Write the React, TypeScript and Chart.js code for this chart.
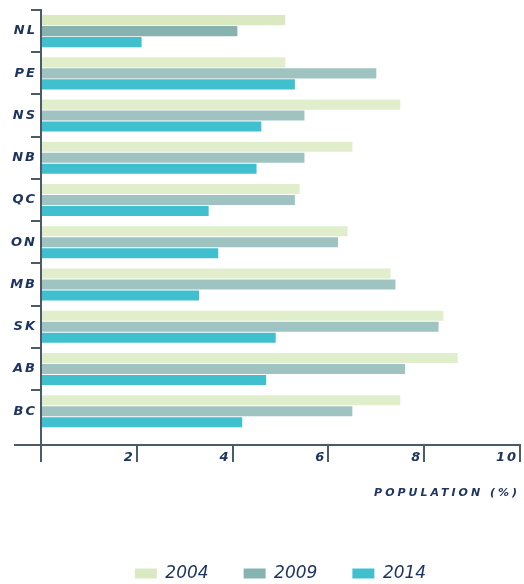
import React, { useEffect, useRef } from 'react';
import { Chart, registerables } from 'chart.js';

Chart.register(...registerables);

// ---- data ----
const provinces = ['NL', 'PE', 'NS', 'NB', 'QC', 'ON', 'MB', 'SK', 'AB', 'BC'];
const years = ['2004', '2009', '2014'];
const values2004 = [5.1, 5.1, 7.5, 6.5, 5.4, 6.4, 7.3, 8.4, 8.7, 7.5];
const values2009 = [4.1, 7.0, 5.5, 5.5, 5.3, 6.2, 7.4, 8.3, 7.6, 6.5];
const values2014 = [2.1, 5.3, 4.6, 4.5, 3.5, 3.7, 3.3, 4.9, 4.7, 4.2];
const xTicks = [0, 2, 4, 6, 8, 10];
const axisTitle = 'POPULATION (%)';

// ---- style ----
const NAVY = '#1f3561';
const AXIS = '#4b5c68';
const seriesColors = [
  { dark: '#dbe9c2', light: '#e1eecc' },
  { dark: '#86b3b0', light: '#9fc3c1' },
  { dark: '#40c0cf', light: '#40c0cf' },
];
const FONT = '"DejaVu Sans", sans-serif';
const LEGEND_FONT = '"DejaVu Sans", sans-serif';

const spacingPlugin = {
  id: 'letterSpacing',
  afterLayout(chart: any) {
    const wrap = (obj: any, fn: string, sp: string) => {
      if (!obj || obj['__wrapped_' + fn]) return;
      const orig = obj[fn];
      obj[fn] = function (...args: any[]) {
        const ctx: any = chart.ctx;
        const prev = ctx.letterSpacing;
        ctx.letterSpacing = sp;
        try {
          return orig.apply(this, args);
        } finally {
          ctx.letterSpacing = prev;
        }
      };
      obj['__wrapped_' + fn] = true;
    };
    wrap(chart.scales.y, 'drawLabels', '2px');
    wrap(chart.scales.x, 'drawLabels', '2px');
    wrap(chart.scales.x, 'drawTitle', '3px');
  },
};

const axisLinePlugin = {
  id: 'axisLine',
  afterDraw(chart: any) {
    const { ctx, chartArea } = chart;
    const x = chart.scales.x;
    ctx.save();
    ctx.strokeStyle = AXIS;
    ctx.lineWidth = 2;
    ctx.beginPath();
    const y = x.top - 1;
    ctx.moveTo(chartArea.left - 27, y);
    ctx.lineTo(chartArea.right + 1, y);
    ctx.stroke();
    ctx.restore();
  },
};

export default function App() {
  const ref = useRef<HTMLCanvasElement>(null);

  useEffect(() => {
    if (!ref.current) return;
    const seriesValues = [values2004, values2009, values2014];
    const chart = new Chart(ref.current, {
      type: 'bar',
      data: {
        labels: provinces,
        datasets: years.map((year, i) => ({
          label: year,
          data: seriesValues[i],
          backgroundColor: (c: any) =>
            c.type === 'data' && c.dataIndex !== 0 ? seriesColors[i].light : seriesColors[i].dark,
          borderWidth: 0,
          categoryPercentage: 0.781,
          barPercentage: 0.91,
        })),
      },
      plugins: [spacingPlugin, axisLinePlugin],
      options: {
        indexAxis: 'y',
        animation: false,
        responsive: false,
        events: [],
        layout: { padding: { top: 10, right: 4, left: 0, bottom: 0 } },
        scales: {
          y: {
            type: 'category',
            offset: true,
            afterBuildTicks: (s: any) => {
              s._valueRange += 0.32;
            },
            afterFit: (s: any) => {
              s.width = 41;
            },
            grid: {
              offset: true,
              drawOnChartArea: false,
              drawTicks: true,
              tickLength: 10,
              lineWidth: 2,
              color: (c: any) => (c.index === undefined ? 'rgba(0,0,0,0)' : AXIS),
            },
            border: { display: true, color: AXIS, width: 2 },
            ticks: {
              color: NAVY,
              padding: -6,
              font: { family: FONT, size: 13, weight: 'bold', style: 'italic' },
            },
          },
          x: {
            type: 'linear',
            min: 0,
            max: 10,
            afterBuildTicks: (s: any) => {
              s.ticks = xTicks.map((v) => ({ value: v }));
            },
            afterFit: (s: any) => {
              s.height = 84;
            },
            grid: {
              drawOnChartArea: false,
              drawTicks: true,
              tickLength: 16,
              lineWidth: 2,
              color: AXIS,
            },
            border: { display: false },
            ticks: {
              color: NAVY,
              align: 'end',
              padding: -12,
              labelOffset: -2,
              maxRotation: 0,
              autoSkip: false,
              font: { family: FONT, size: 13, weight: 'bold', style: 'italic' },
              callback: (v: any) => (v === 0 ? '' : String(v)),
            },
            title: {
              display: true,
              text: axisTitle,
              align: 'end',
              color: NAVY,
              padding: { top: 0, bottom: 30 },
              font: { family: FONT, size: 11, weight: 'bold', style: 'italic' },
            },
          },
        },
        plugins: {
          tooltip: { enabled: false },
          legend: {
            position: 'bottom',
            fullSize: false,
            labels: {
              boxWidth: 22,
              boxHeight: 10,
              padding: 35,
              color: NAVY,
              font: { family: LEGEND_FONT, size: 17, weight: 'normal', style: 'italic' },
            },
          },
        },
      },
    } as any);
    return () => chart.destroy();
  }, []);

  return (
    <div
      style={{
        position: 'absolute',
        left: 0,
        top: 0,
        width: 524,
        height: 584,
        overflow: 'hidden',
        background: '#fff',
      }}
    >
      <canvas ref={ref} width={524} height={592} style={{ display: 'block' }} />
    </div>
  );
}
